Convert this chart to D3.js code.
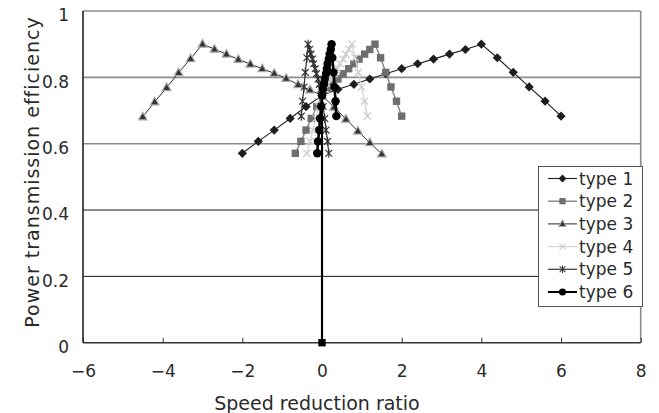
<!DOCTYPE html>
<html><head><meta charset="utf-8">
<script src="https://cdn.jsdelivr.net/npm/d3@7/dist/d3.min.js"></script>
<style>
html,body{margin:0;padding:0;background:#fff;}
svg{display:block;font-family:"DejaVu Sans",sans-serif;}
</style></head>
<body>
<svg id="chart" width="659" height="413"></svg>
<script>
// ---- data ----
const seriesNames = ["type 1","type 2","type 3","type 4","type 5","type 6"];
const xTicks = [-6,-4,-2,0,2,4,6,8];
const yTicks = [0,0.2,0.4,0.6,0.8,1];

const type1X = [-2.0,-1.6,-1.2,-0.8,-0.4,0,0.4,0.8,1.2,1.6,2.0,2.4,2.8,3.2,3.6,4.0,4.4,4.8,5.2,5.6,6.0];
const type1Y = [0.571,0.607,0.641,0.676,0.712,0.745,0.764,0.779,0.795,0.811,0.826,0.841,0.855,0.870,0.884,0.900,0.859,0.815,0.771,0.728,0.683];

const type2X = [-0.67,-0.53,-0.40,-0.27,-0.13,0,0.13,0.27,0.40,0.53,0.67,0.80,0.93,1.07,1.20,1.33,1.47,1.60,1.73,1.87,2.00];
const type2Y = [0.571,0.607,0.641,0.676,0.712,0.745,0.764,0.779,0.795,0.811,0.826,0.841,0.855,0.870,0.884,0.900,0.859,0.815,0.771,0.728,0.683];

const type3X = [1.5,1.2,0.9,0.6,0.3,0,-0.3,-0.6,-0.9,-1.2,-1.5,-1.8,-2.1,-2.4,-2.7,-3.0,-3.3,-3.6,-3.9,-4.2,-4.5];
const type3Y = [0.569,0.603,0.638,0.674,0.710,0.745,0.762,0.778,0.797,0.812,0.826,0.840,0.854,0.870,0.885,0.900,0.856,0.814,0.769,0.726,0.681];

const type4X = [-0.38,-0.30,-0.23,-0.15,-0.08,0,0.08,0.15,0.23,0.30,0.38,0.45,0.53,0.60,0.68,0.75,0.83,0.91,0.99,1.07,1.14];
const type4Y = [0.571,0.607,0.641,0.676,0.712,0.745,0.764,0.779,0.795,0.811,0.826,0.841,0.855,0.870,0.884,0.900,0.859,0.815,0.771,0.728,0.683];

const type5X = [0.17,0.14,0.10,0.07,0.03,0,-0.03,-0.07,-0.10,-0.14,-0.17,-0.21,-0.24,-0.28,-0.31,-0.35,-0.38,-0.42,-0.45,-0.49,-0.52];
const type5Y = [0.571,0.607,0.641,0.676,0.712,0.745,0.764,0.779,0.795,0.811,0.826,0.841,0.855,0.870,0.884,0.900,0.859,0.815,0.771,0.728,0.683];

const type6X = [-0.12,-0.10,-0.07,-0.05,-0.02,0,0.02,0.05,0.07,0.10,0.12,0.14,0.17,0.19,0.22,0.24,0.26,0.29,0.31,0.34,0.36];
const type6Y = [0.571,0.607,0.641,0.676,0.712,0.745,0.764,0.779,0.795,0.811,0.826,0.841,0.855,0.870,0.884,0.900,0.859,0.815,0.771,0.728,0.683];

// vertical segment from the origin seen in the chart
const originX = [0, 0];
const originY = [0, 0.745];

// ---- styles ----
const styles = [
  {line:"#1e1e1e", lw:1.1, marker:"diamond", fill:"#1e1e1e", stroke:"none", sw:0},
  {line:"#7a7a7a", lw:1.3, marker:"square",  fill:"#6e6e6e", stroke:"none", sw:0},
  {line:"#2a2a2a", lw:1.0, marker:"triangle",fill:"#333",    stroke:"#aaa", sw:1.2},
  {line:"#d4d4d4", lw:1.3, marker:"x",       fill:"none",    stroke:"#cfcfcf", sw:1.4},
  {line:"#333",    lw:1.2, marker:"star",    fill:"none",    stroke:"#333", sw:1.2},
  {line:"#000",    lw:2.6, marker:"circle",  fill:"#000",    stroke:"none", sw:0}
];
const markerPaths = {
  diamond: "M0,-4.6L4.6,0L0,4.6L-4.6,0Z",
  square: "M-3.7,-3.7H3.7V3.7H-3.7Z",
  triangle: "M0,-4.6L4.3,3L-4.3,3Z",
  x: "M-3.6,-3.6L3.6,3.6M-3.6,3.6L3.6,-3.6",
  star: "M-3.4,-3.4L3.4,3.4M-3.4,3.4L3.4,-3.4M0,-4.5V4.5",
  circle: "M4.2,0A4.2,4.2 0 1,1 -4.2,0A4.2,4.2 0 1,1 4.2,0Z"
};

const allX = [type1X,type2X,type3X,type4X,type5X,type6X];
const allY = [type1Y,type2Y,type3Y,type4Y,type5Y,type6Y];
const series = seriesNames.map((n,i)=>({name:n, style:styles[i],
  pts: allX[i].map((xv,j)=>({x:xv, y:allY[i][j]}))}));

// ---- scales ----
const svg = d3.select("#chart");
const x = d3.scaleLinear().domain([-6,8]).range([83,640.7]);
const y = d3.scaleLinear().domain([0,1]).range([342.7,11]);

// gridlines
svg.append("g").selectAll("line").data(yTicks.filter(v=>v>0)).join("line")
  .attr("x1",x(-6)).attr("x2",x(8))
  .attr("y1",d=>y(d)).attr("y2",d=>y(d))
  .attr("stroke",d=> (d===0.2||d===0.4) ? "#1a1a1a" : "#8c8c8c")
  .attr("stroke-width",d=> (d===0.2||d===0.4) ? 1 : 1.6);

// right border
svg.append("line").attr("x1",x(8)).attr("x2",x(8)).attr("y1",y(1)).attr("y2",y(0))
  .attr("stroke","#8c8c8c").attr("stroke-width",1.6);

// x axis
const fmtX = d => d < 0 ? "\u2212" + Math.abs(d) : String(d);
const gx = svg.append("g").attr("transform",`translate(0,${y(0)})`)
  .call(d3.axisBottom(x).tickValues(xTicks).tickSizeInner(-5).tickSizeOuter(0).tickFormat(fmtX));
gx.select(".domain").remove();
gx.selectAll(".tick line").attr("stroke","#333").attr("stroke-width",1);
gx.selectAll(".tick text").attr("y",34).attr("dy",0)
  .attr("font-size",17).attr("fill","#2a2a2a").attr("font-family","DejaVu Sans");

// y axis
const fmtY = d => d===0 ? "0" : d===1 ? "1" : d3.format(".1f")(d);
const gy = svg.append("g").attr("transform",`translate(${x(-6)},0)`)
  .call(d3.axisLeft(y).tickValues(yTicks).tickSize(0).tickPadding(14).tickFormat(fmtY));
gy.select(".domain").remove();
gy.selectAll(".tick text").attr("dy","0.57em")
  .attr("font-size",17).attr("fill","#2a2a2a").attr("font-family","DejaVu Sans");

// axis lines (left, bottom)
svg.append("line").attr("x1",x(-6)).attr("x2",x(-6)).attr("y1",y(1)).attr("y2",y(0))
  .attr("stroke","#222").attr("stroke-width",1.6);
svg.append("line").attr("x1",x(-6)).attr("x2",x(8)).attr("y1",y(0)).attr("y2",y(0))
  .attr("stroke","#333").attr("stroke-width",1.6);

// titles
svg.append("text").attr("x",317).attr("y",410).attr("text-anchor","middle")
  .attr("font-size",19).attr("fill","#2a2a2a").text("Speed reduction ratio");
svg.append("text").attr("transform","translate(38.5,172) rotate(-90)").attr("text-anchor","middle")
  .attr("font-size",19).attr("letter-spacing","1px").attr("fill","#2a2a2a").text("Power transmission efficiency");

// series
const line = d3.line().x(d=>x(d.x)).y(d=>y(d.y));
const plot = svg.append("g");

function drawMarkers(g, pts, st){
  g.selectAll("path.m").data(pts).join("path").attr("class","m")
    .attr("transform",d=>`translate(${x(d.x)},${y(d.y)})`)
    .attr("d",markerPaths[st.marker])
    .attr("fill",st.fill).attr("stroke",st.stroke).attr("stroke-width",st.sw);
}

series.forEach((s,i)=>{
  const g = plot.append("g");
  if (i===5){
    const op = originX.map((xv,j)=>({x:xv,y:originY[j]}));
    g.append("path").attr("d",line(op)).attr("fill","none").attr("stroke","#000").attr("stroke-width",2.2);
    g.append("path").attr("transform",`translate(${x(op[0].x)},${y(op[0].y)})`)
      .attr("d",markerPaths.square).attr("fill","#000");
  }
  g.append("path").attr("d",line(s.pts)).attr("fill","none")
    .attr("stroke",s.style.line).attr("stroke-width",s.style.lw).attr("stroke-linejoin","round");
  drawMarkers(g, s.pts, s.style);
});

// legend
const lg = svg.append("g");
lg.append("rect").attr("x",538.5).attr("y",166.5).attr("width",104).attr("height",140)
  .attr("fill","#fff").attr("stroke","#555").attr("stroke-width",1);
series.forEach((s,i)=>{
  const cy = 178.5 + i*22.7;
  lg.append("line").attr("x1",548).attr("x2",577).attr("y1",cy).attr("y2",cy)
    .attr("stroke",s.style.line).attr("stroke-width",Math.min(s.style.lw,2));
  lg.append("path").attr("transform",`translate(562.5,${cy}) scale(0.85)`)
    .attr("d",markerPaths[s.style.marker])
    .attr("fill",s.style.fill).attr("stroke",s.style.stroke).attr("stroke-width",s.style.sw);
  lg.append("text").attr("x",579).attr("y",cy+6).attr("font-size",17).attr("fill","#2a2a2a").text(s.name);
});
</script>
</body></html>
